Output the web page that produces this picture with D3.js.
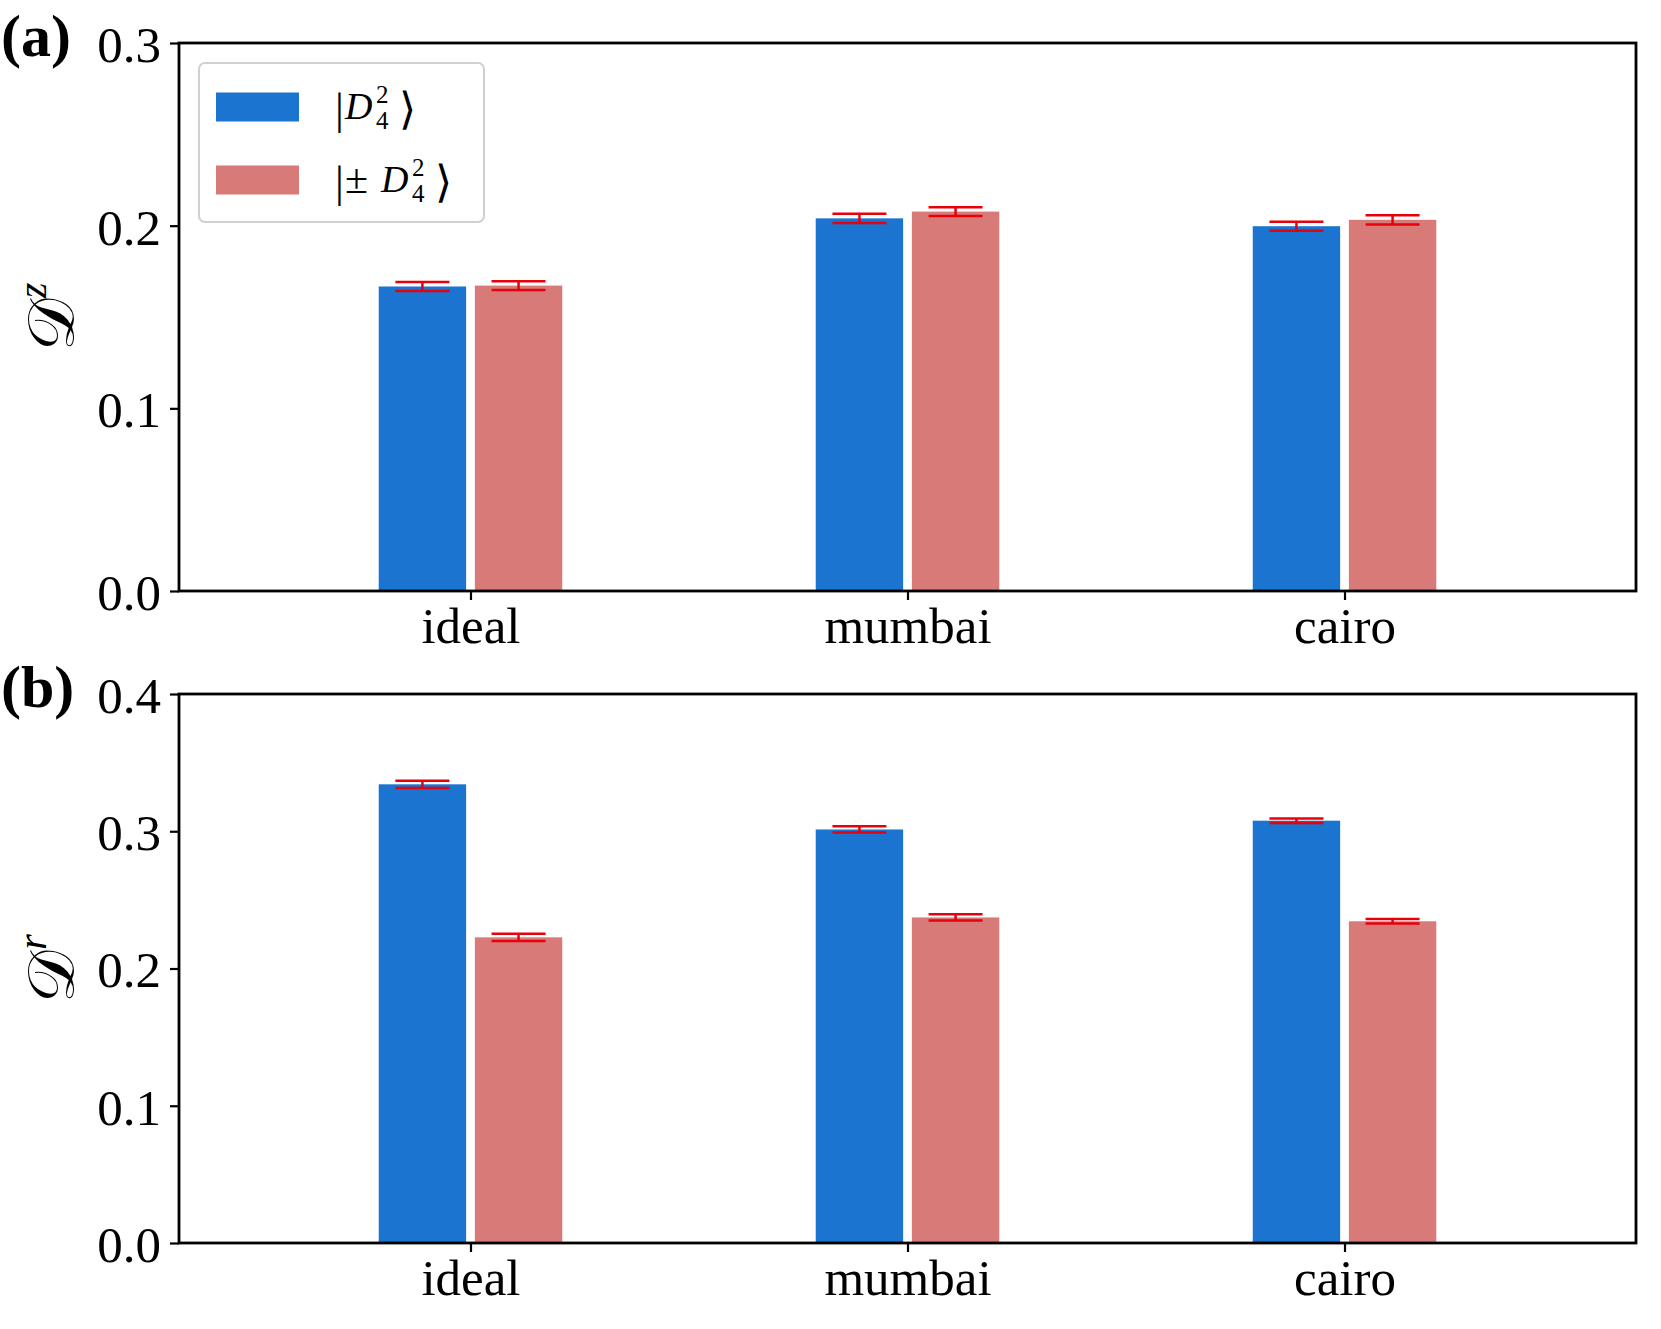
<!DOCTYPE html>
<html>
<head>
<meta charset="utf-8">
<script src="https://cdn.jsdelivr.net/npm/d3@7"></script>
<style>
  body { margin: 0; background: #fff; }
  text { font-family: "Liberation Serif", "Times New Roman", serif; }
</style>
</head>
<body>
<div id="chart"></div>
<script>
// categories and values
var categories = ["ideal", "mumbai", "cairo"];
var seriesNames = ["pure", "mixed"];   // |D4^2> and |±D4^2>

// panel (a): D^z
var dzPure    = [0.1667, 0.2040, 0.1997];
var dzPureErr = [0.0024, 0.0025, 0.0025];
var dzMix     = [0.1672, 0.2077, 0.2032];
var dzMixErr  = [0.0024, 0.0024, 0.0025];

// panel (b): D^r
var drPure    = [0.3342, 0.3013, 0.3077];
var drPureErr = [0.0026, 0.0023, 0.0016];
var drMix     = [0.2227, 0.2372, 0.2344];
var drMixErr  = [0.0026, 0.0023, 0.0016];

var ticksA = [0.0, 0.1, 0.2, 0.3];
var ticksB = [0.0, 0.1, 0.2, 0.3, 0.4];

var colors = ["#1a74d0", "#d87a78"];
var errColor = "#e8000b";

var width = 1661, height = 1329;
var left = 179, right = 1636;

var svg = d3.select("#chart").append("svg")
    .attr("width", width)
    .attr("height", height);

// x positions 0,1,2 like matplotlib
var x = d3.scaleLinear().domain([-0.667, 2.667]).range([left, right]);
var barW = 0.2, offs = [-0.11, 0.11];
var capHalf = 27;

function panel(top, bottom, ymax, ticks, pure, pureErr, mix, mixErr, letter, sup) {
  var y = d3.scaleLinear().domain([0, ymax]).range([bottom, top]);
  var g = svg.append("g");

  var rows = [];
  categories.forEach(function(c, i) {
    rows.push({i: i, s: 0, v: pure[i], e: pureErr[i]});
    rows.push({i: i, s: 1, v: mix[i], e: mixErr[i]});
  });

  g.selectAll(".bar").data(rows).enter().append("rect")
      .attr("x", function(d) { return x(d.i + offs[d.s] - barW / 2); })
      .attr("width", function(d) { return x(barW) - x(0); })
      .attr("y", function(d) { return y(d.v); })
      .attr("height", function(d) { return bottom - y(d.v); })
      .attr("fill", function(d) { return colors[d.s]; });

  // error bars
  var eb = g.selectAll(".err").data(rows).enter().append("g")
      .attr("stroke", errColor).attr("stroke-width", 2.5);
  eb.append("line")
      .attr("x1", function(d) { return x(d.i + offs[d.s]); })
      .attr("x2", function(d) { return x(d.i + offs[d.s]); })
      .attr("y1", function(d) { return y(d.v - d.e); })
      .attr("y2", function(d) { return y(d.v + d.e); });
  [-1, 1].forEach(function(k) {
    eb.append("line")
        .attr("x1", function(d) { return x(d.i + offs[d.s]) - capHalf; })
        .attr("x2", function(d) { return x(d.i + offs[d.s]) + capHalf; })
        .attr("y1", function(d) { return y(d.v + k * d.e); })
        .attr("y2", function(d) { return y(d.v + k * d.e); });
  });

  // axes
  var ya = g.append("g")
      .attr("transform", "translate(" + left + ",0)")
      .call(d3.axisLeft(y).tickValues(ticks).tickFormat(d3.format(".1f")).tickSize(9).tickPadding(9));
  var xa = g.append("g")
      .attr("transform", "translate(0," + bottom + ")")
      .call(d3.axisBottom(x).tickValues([0, 1, 2]).tickFormat(function(d) { return categories[d]; }).tickSize(9).tickPadding(7));
  [ya, xa].forEach(function(a) {
    a.select(".domain").remove();
    a.selectAll(".tick line").attr("stroke", "#000").attr("stroke-width", 2.2);
    a.selectAll(".tick text").attr("font-family", "Liberation Serif").attr("font-size", 51).attr("fill", "#000");
  });
  ya.selectAll(".tick text").attr("dy", "0.36em");

  g.append("rect")
      .attr("x", left).attr("y", top)
      .attr("width", right - left).attr("height", bottom - top)
      .attr("fill", "none").attr("stroke", "#000").attr("stroke-width", 2.8);

  // panel letter
  g.append("text")
      .attr("x", 1).attr("y", top + 13)
      .attr("font-size", 60).attr("font-weight", "bold")
      .text("(" + letter + ")");

  // y label, calligraphic D with superscript
  var yl = g.append("text")
      .attr("transform", "translate(74," + ((top + bottom) / 2) + ") rotate(-90)")
      .attr("text-anchor", "middle");
  yl.append("tspan").attr("font-size", 66).attr("font-family", "DejaVu Serif, Liberation Serif").text("\uD835\uDC9F");
  yl.append("tspan").attr("font-size", 40).attr("font-style", "italic").attr("dy", -28).text(sup);
}

panel(43, 591, 0.3, ticksA, dzPure, dzPureErr, dzMix, dzMixErr, "a", "z");
panel(694, 1243, 0.4, ticksB, drPure, drPureErr, drMix, drMixErr, "b", "r");

// legend
var lg = svg.append("g").attr("transform", "translate(199,63)");
lg.append("rect")
    .attr("width", 285).attr("height", 159).attr("rx", 6)
    .attr("fill", "#fff").attr("fill-opacity", 0.8)
    .attr("stroke", "#d0d0d0").attr("stroke-width", 2);

seriesNames.forEach(function(name, i) {
  var cy = 44 + i * 73;
  lg.append("rect")
      .attr("x", 17).attr("y", cy - 14.5)
      .attr("width", 83).attr("height", 29)
      .attr("fill", colors[i]);
  var t = lg.append("g").attr("transform", "translate(136," + (cy + 12) + ")");
  var px = 0;
  t.append("text").attr("x", px).attr("y", 5).attr("font-size", 44).text("|");
  px += 10;
  if (i === 1) {
    t.append("text").attr("x", px).attr("y", 1).attr("font-size", 42).text("\u00B1");
    px += 36;
  }
  t.append("text").attr("x", px).attr("y", 0).attr("font-size", 38).attr("font-style", "italic").text("D");
  t.append("text").attr("x", px + 31).attr("y", -16).attr("font-size", 25).text("2");
  t.append("text").attr("x", px + 31).attr("y", 10).attr("font-size", 25).text("4");
  t.append("text").attr("x", px + 54).attr("y", 5).attr("font-size", 44).text("\u27E9");
});
</script>
</body>
</html>
